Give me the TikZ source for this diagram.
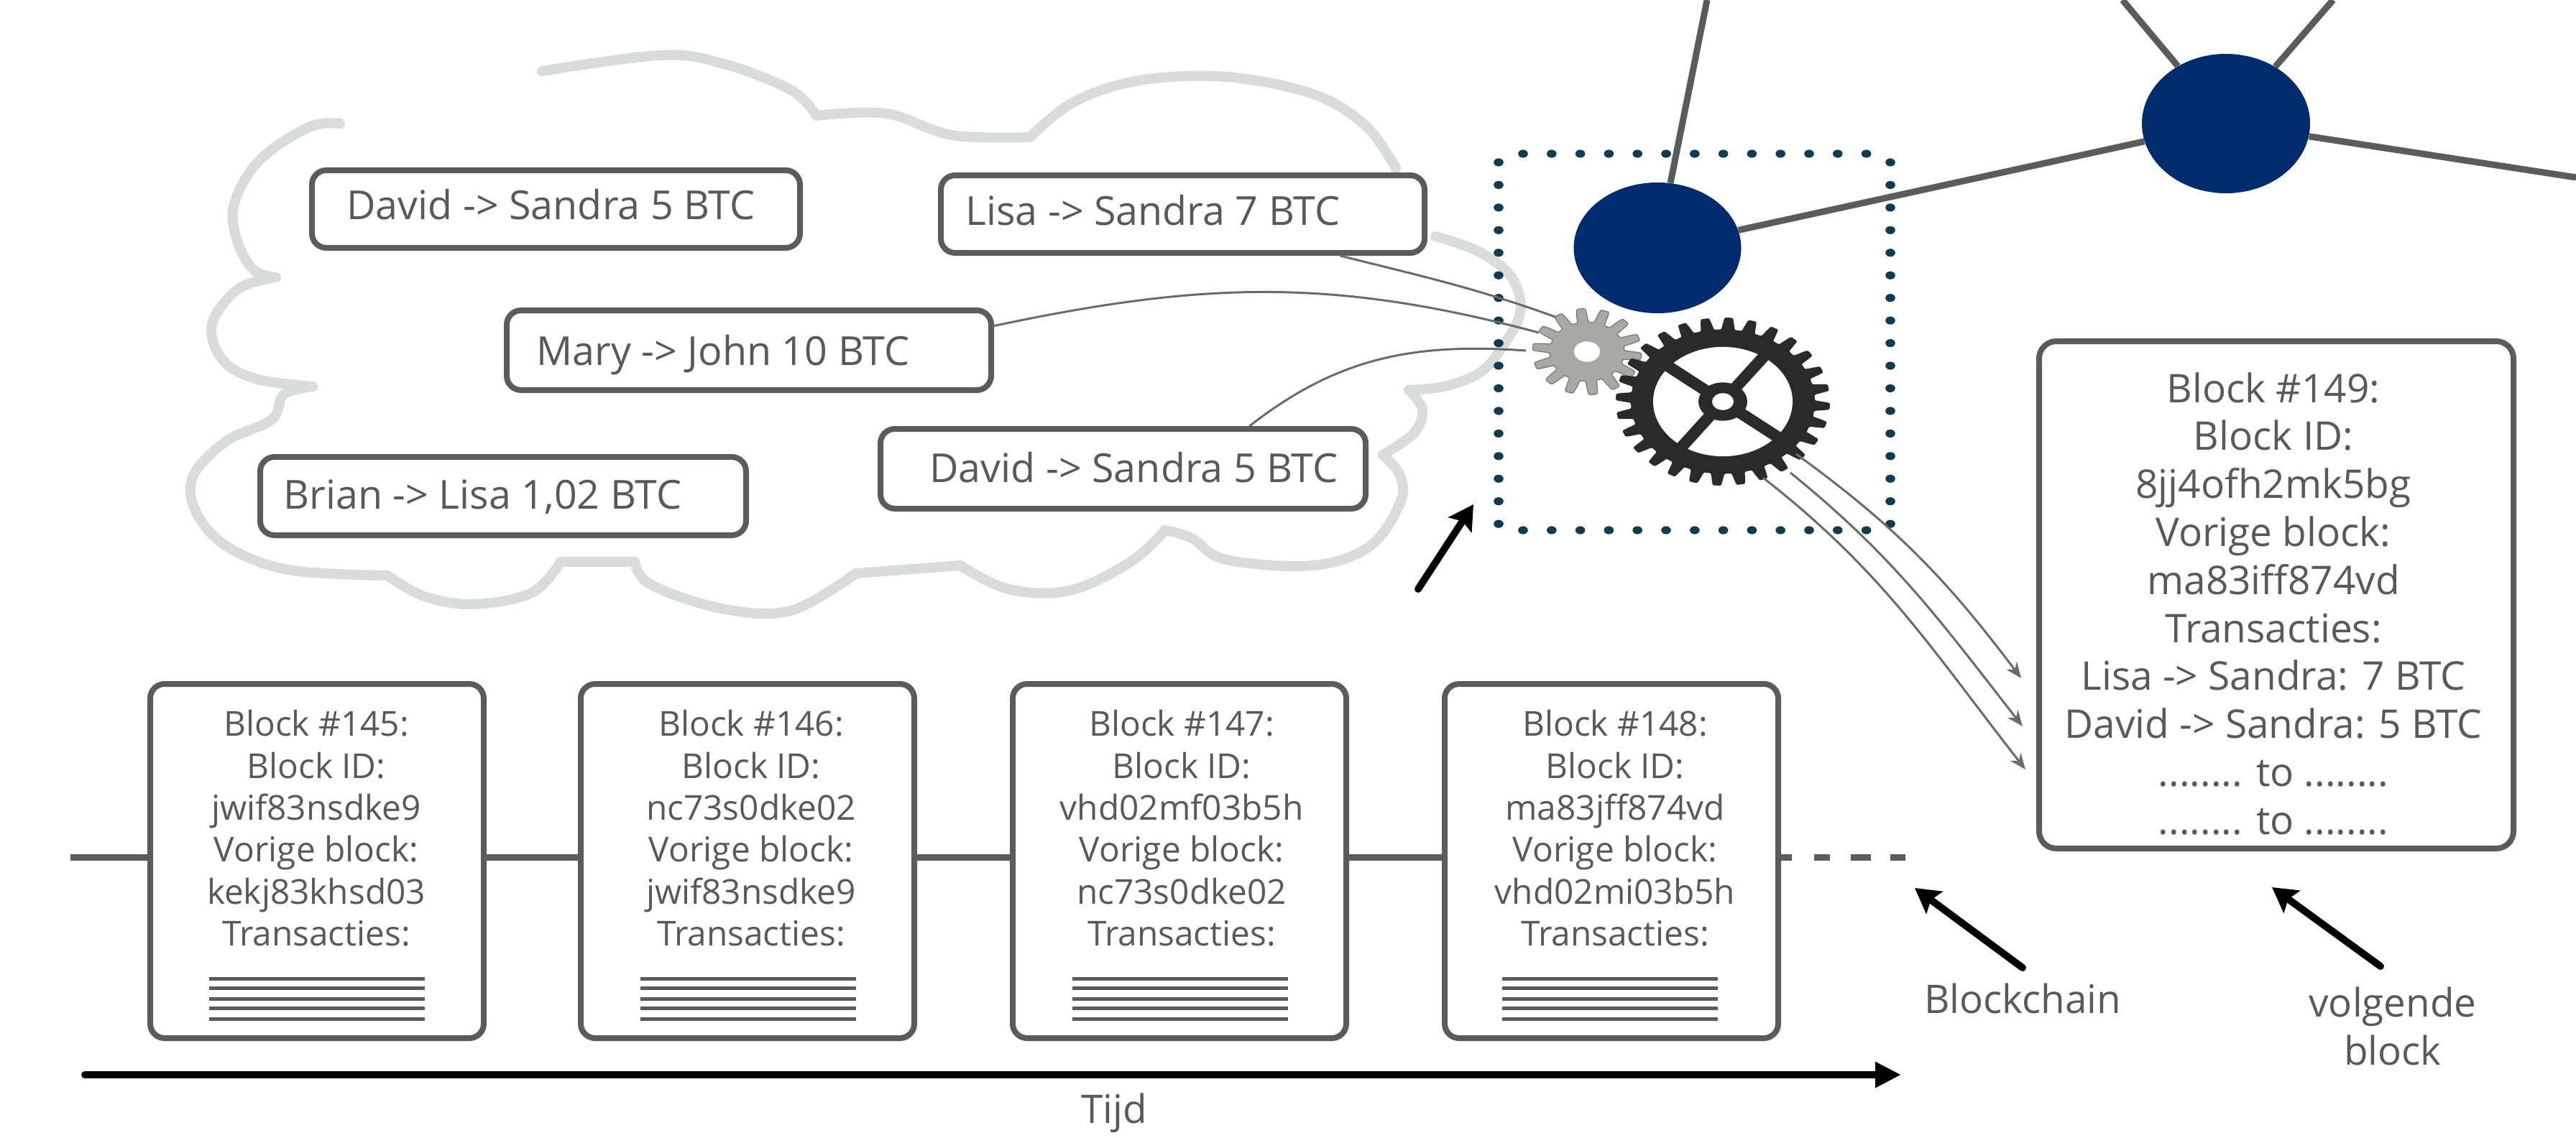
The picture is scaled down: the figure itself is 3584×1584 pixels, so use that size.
\documentclass[tikz,border=0pt]{standalone}
\usepackage{fontspec}
\setmainfont{Open Sans}
\usetikzlibrary{arrows.meta,calc,shapes.geometric}
\definecolor{txt}{HTML}{58595B}
\definecolor{edge}{HTML}{5A5B5C}
\definecolor{cloudc}{HTML}{D8DCDC}
\definecolor{navy}{HTML}{002B6D}
\definecolor{dotc}{HTML}{123A50}
\definecolor{gearD}{HTML}{2B2A29}
\definecolor{gearL}{HTML}{A9A9A4}
\tikzset{
  x=0.5pt,y=-0.5pt,
  txbox/.style={draw=edge,line width=4pt,rounded corners=10pt,fill=white,inner sep=0pt},
  blockbox/.style={draw=edge,line width=4pt,rounded corners=10pt,fill=white,inner sep=0pt,minimum width=232pt,minimum height=246.5pt},
  txlabel/.style={text=txt,font=\fontsize{27.8}{29}\selectfont,anchor=base west,inner sep=0pt},
  blocktext/.style={text=txt,font=\fontsize{23.9}{29.2}\selectfont,align=center,anchor=north,inner sep=0pt},
  nexttext/.style={text=txt,font=\fontsize{27.5}{33.4}\selectfont,align=center,anchor=north,inner sep=0pt},
  sidetext/.style={text=txt,font=\fontsize{27.4}{33.5}\selectfont,align=center,inner sep=0pt},
  wire/.style={draw=edge!90!white,line width=1.5pt},
  wirearrow/.style={wire,-{Stealth[length=11pt,width=9pt]}},
  linkline/.style={draw=edge,line width=4.5pt},
  peer/.style={ellipse,fill=navy,inner sep=0pt},
  bigarrow/.style={draw=black,line width=5pt,line cap=round,-{Stealth[length=17pt,width=19pt,inset=3pt]}},
  timearrow/.style={draw=black,line width=5pt,line cap=round,-{Triangle[length=18pt,width=17pt]}},
  cloudline/.style={draw=cloudc,line width=7pt,line join=round,line cap=round},
  txlines/.style={draw=edge,line width=2.5pt},
}
\newcommand{\txstack}[1]{%
  \foreach \yy in {1362,1375,1390,1403,1418}{\draw[txlines] (#1-150,\yy) -- (#1+150,\yy);}}
\begin{document}
\begin{tikzpicture}
\useasboundingbox (0,0) rectangle (3584,1584);
% cloud
\draw[cloudline] plot[smooth,tension=.6] coordinates {(473,172)(430,177)(361,223)(326,283)(329,332)(352,375)(384,386)};
\draw[cloudline] plot[smooth,tension=.6] coordinates {(384,386)(332,402)(295,451)(309,500)(355,527)(435,538)};
\draw[cloudline] plot[smooth,tension=.6] coordinates {(435,538)(395,549)(378,584)(315,614)(269,662)(272,711)(315,760)(401,793)(539,801)};
\draw[cloudline] plot[smooth,tension=.6] coordinates {(539,801)(590,830)(659,841)(740,825)(780,782)};
\draw[cloudline] (780,782) -- (883,782);
\draw[cloudline] plot[smooth,tension=.6] coordinates {(883,782)(906,814)(1004,847)(1100,850)(1191,798)};
\draw[cloudline] plot[smooth,tension=.6] coordinates {(1191,798)(1336,787)};
\draw[cloudline] plot[smooth,tension=.6] coordinates {(1336,787)(1403,820)(1488,822)(1573,782)(1621,738)};
\draw[cloudline] plot[smooth,tension=.6] coordinates {(1621,738)(1658,749)(1706,779)(1827,787)(1906,760)(1948,700)(1948,662)(1924,633)};
\draw[cloudline] plot[smooth,tension=.6] coordinates {(1924,633)(1967,603)(1979,570)(1960,543)};
\draw[cloudline] plot[smooth,tension=.6] coordinates {(1960,543)(2009,538)(2057,520)(2086,489)(2115,435)(2103,386)(2057,350)(1997,329)};
\draw[cloudline] plot[smooth,tension=.6] coordinates {(1942,234)(1900,175)(1827,131)(1706,107)(1585,112)(1494,142)(1433,191)};
\draw[cloudline] plot[smooth,tension=.6] coordinates {(1433,191)(1324,188)(1233,158)(1136,161)};
\draw[cloudline] plot[smooth,tension=.6] coordinates {(1136,161)(1100,125)(1004,88)(918,77)(754,99)};
% transaction boxes
\node[txbox,minimum width=339.5pt,minimum height=54pt] (b1) at (773.5,291) {};
\node[txbox,minimum width=337pt,minimum height=55.5pt] (b2) at (1042,487.5) {};
\node[txbox,minimum width=338pt,minimum height=54.5pt] (b3) at (700,690.5) {};
\node[txbox,minimum width=336.5pt,minimum height=54pt] (b4) at (1645.5,298) {};
\node[txbox,minimum width=337.5pt,minimum height=55.5pt] (b5) at (1562.5,652.5) {};
\node[txlabel] (t1) at (482,305) {David -> Sandra 5 BTC};
\node[txlabel] (t2) at (746,508) {Mary -> John 10 BTC};
\node[txlabel] (t3) at (394,708) {Brian -> Lisa 1,02 BTC};
\node[txlabel] (t4) at (1343,313) {Lisa -> Sandra 7 BTC};
\node[txlabel] (t5) at (1293,671) {David -> Sandra 5 BTC};
% network
\coordinate (top1) at (2375,0);
\coordinate (top2) at (2953,0);
\coordinate (top3) at (3246,0);
\coordinate (rightend) at (3584,247);
\node[peer,minimum width=116.5pt,minimum height=91pt] (n1) at (2306,345) {};
\node[peer,minimum width=117pt,minimum height=97pt] (n2) at (3097,172) {};
\draw[linkline] (n1) -- (top1);
\draw[linkline] (n1) -- (n2);
\draw[linkline] (n2) -- (top2);
\draw[linkline] (n2) -- (top3);
\draw[linkline] (n2) -- (rightend);
% dotted square
\foreach \i in {0,...,12}{
  \fill[dotc] ({2119+\i*39.8},214) ellipse (3.4pt and 2.8pt);
  \fill[dotc] ({2119+\i*39.8},738) ellipse (3.4pt and 2.8pt);
}
\foreach \i in {0,...,16}{
  \fill[dotc] (2085,{226+\i*31.45}) ellipse (3.4pt and 2.8pt);
  \fill[dotc] (2630,{226+\i*31.45}) ellipse (3.4pt and 2.8pt);
}
% wires in
\coordinate (g1) at (2172,444);
\coordinate (g2) at (2141,463);
\coordinate (g3) at (2123,488);
\coordinate (m2) at (1381,454);
\draw[wire] ([xshift=109.5pt]b4.south) to[out=-14,in=160] (g1);
\draw[wire] (m2) to[out=12,in=165] (g2);
\draw[wire] ([xshift=88pt]b5.north) to[out=38,in=176] (g3);
% small gear
\begin{scope}[shift={(2208,489.5)},yscale=.79]
\fill[gearL,draw=gearL!70!black,line width=.6pt] plot[domain=0:360,samples=225] (\x:{64+12*min(1,max(-1,2.2*sin(14*\x)))}) -- cycle;
\fill[white] (0,0) circle (9pt);
\end{scope}
% large gear
\begin{scope}[shift={(2397,559)},yscale=.785]
\fill[gearD] plot[domain=0:360,samples=449] (\x:{138.5+10.5*min(1,max(-1,2.2*sin(28*\x)))}) -- cycle;
\fill[white] (0,0) circle (48.5pt);
\draw[gearD,line width=8pt] (-85,-70) -- (85,70) (62,-87) -- (-62,87);
\fill[gearD] (0,0) circle (17pt);
\fill[white] (0,0) circle (7.5pt);
\end{scope}
% wires out
\coordinate (o1) at (2499,632);
\coordinate (o2) at (2491,658);
\coordinate (o3) at (2453,665);
\coordinate (e1) at (2812,944);
\coordinate (e2) at (2814,1011);
\coordinate (e3) at (2818,1071);
\draw[wirearrow] (o1) to[out=-36,in=127] (e1);
\draw[wirearrow] (o2) to[out=-39,in=128] (e2);
\draw[wirearrow] (o3) to[out=-38,in=128] (e3);
% chain
\coordinate (ch) at (0,1193);
\coordinate (chstart) at (98,1193);
\coordinate (chend) at (2651,1193);
\node[blockbox] (bk1) at (441,1198.5) {};
\node[blockbox] (bk2) at (1040,1198.5) {};
\node[blockbox] (bk3) at (1641,1198.5) {};
\node[blockbox] (bk4) at (2242,1198.5) {};
\draw[linkline] (chstart) -- (bk1.west |- ch);
\draw[linkline] (bk1.east |- ch) -- (bk2.west |- ch);
\draw[linkline] (bk2.east |- ch) -- (bk3.west |- ch);
\draw[linkline] (bk3.east |- ch) -- (bk4.west |- ch);
\draw[linkline,dash pattern=on 7.5pt off 15.5pt on 11pt off 14.5pt on 14pt off 13.5pt on 12pt off 50pt] (bk4.east |- ch) -- (chend);
\node[blocktext] (bt1) at (440,988) {Block \#145:\\Block ID:\\jwif83nsdke9\\Vorige block:\\kekj83khsd03\\Transacties:};
\node[blocktext] (bt2) at (1045,988) {Block \#146:\\Block ID:\\nc73s0dke02\\Vorige block:\\jwif83nsdke9\\Transacties:};
\node[blocktext] (bt3) at (1644,988) {Block \#147:\\Block ID:\\vhd02mf03b5h\\Vorige block:\\nc73s0dke02\\Transacties:};
\node[blocktext] (bt4) at (2247,988) {Block \#148:\\Block ID:\\ma83jff874vd\\Vorige block:\\vhd02mi03b5h\\Transacties:};
\txstack{441}\txstack{1041}\txstack{1642}\txstack{2240}
% next block
\node[draw=edge,line width=4pt,rounded corners=12pt,fill=white,inner sep=0pt,minimum width=330pt,minimum height=353pt] (next) at (3167,828) {};
\node[nexttext] (nt) at (3163,518) {Block \#149:\\Block ID:\\8jj4ofh2mk5bg\\Vorige block:\\ma83iff874vd\\Transacties:\\Lisa -> Sandra: 7 BTC\\David -> Sandra: 5 BTC\\........ to ........\\........ to ........};
% arrows and labels
\coordinate (a1s) at (1973,820); \coordinate (a1e) at (2050,702);
\coordinate (a2s) at (2814,1347); \coordinate (a2e) at (2664,1236);
\coordinate (a3s) at (3312,1345); \coordinate (a3e) at (3161,1235);
\coordinate (ts) at (118,1496); \coordinate (te) at (2645,1496);
\draw[bigarrow] (a1s) -- (a1e);
\draw[bigarrow] (a2s) -- (a2e);
\draw[bigarrow] (a3s) -- (a3e);
\draw[timearrow] (ts) -- (te);
\node[sidetext,anchor=base] (lb) at (2814,1410) {Blockchain};
\node[sidetext,anchor=north] (lv) at (3329,1373) {volgende\\block};
\node[sidetext,anchor=base] (lt) at (1550,1563) {Tijd};
\end{tikzpicture}
\end{document}
